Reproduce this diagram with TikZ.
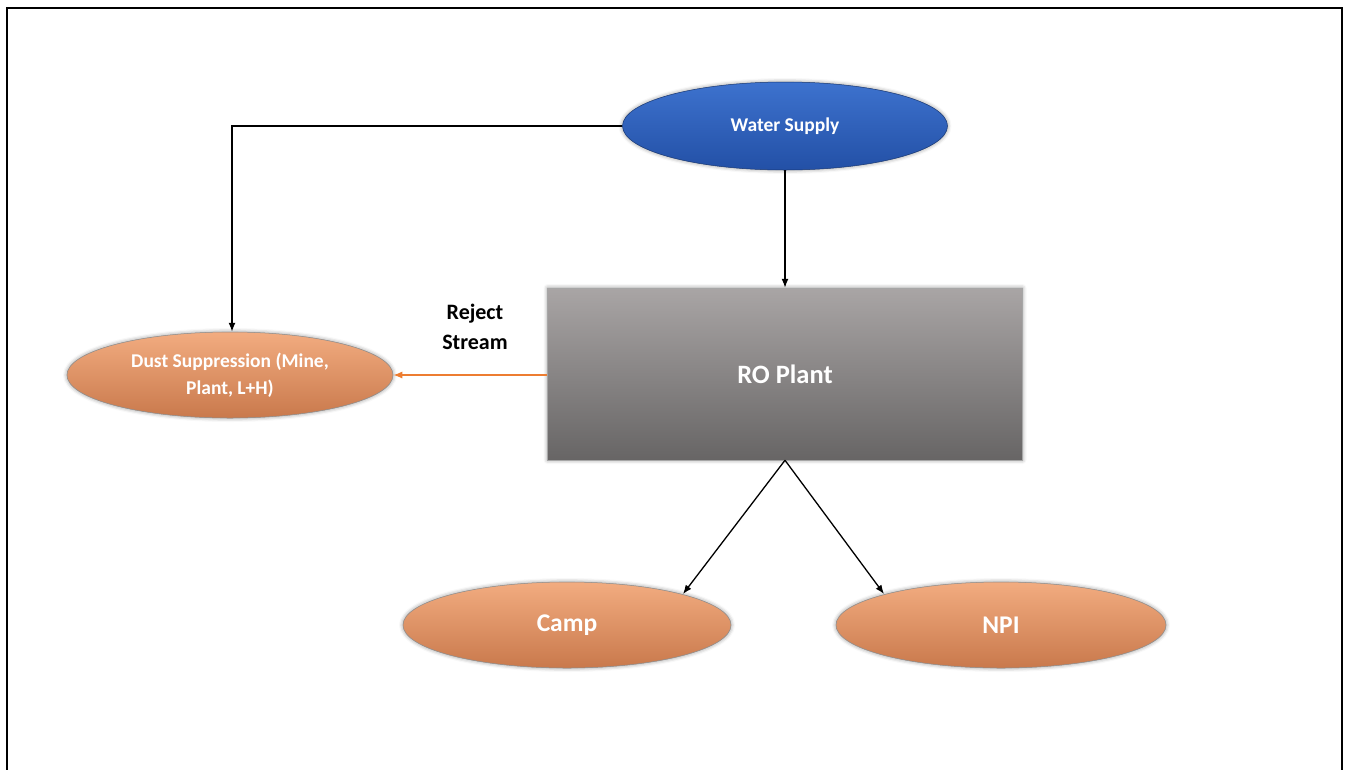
\documentclass[tikz,border=0pt]{standalone}
\usepackage{fontspec}
\setmainfont{Carlito}
\usetikzlibrary{shapes.geometric,arrows.meta,shadows.blur}
\definecolor{blueTop}{HTML}{3D72CE}
\definecolor{blueBot}{HTML}{2350A6}
\definecolor{orangeTop}{HTML}{F2AC80}
\definecolor{orangeBot}{HTML}{C9794C}
\definecolor{grayTop}{HTML}{A9A5A5}
\definecolor{grayBot}{HTML}{676565}
\definecolor{rejectLine}{HTML}{ED7D31}
\tikzset{
  x=1pt, y=-1pt,
  oval/.style={ellipse, minimum width=328pt, minimum height=86pt, inner sep=0pt,
    draw=black!45, line width=0.5pt, text=white, font=\bfseries, align=center,
    blur shadow={shadow xshift=0pt, shadow yshift=0pt, shadow blur radius=4pt, shadow opacity=45}},
  orangeoval/.style={oval, top color=orangeTop, bottom color=orangeBot},
  blueoval/.style={oval, top color=blueTop, bottom color=blueBot, draw=blueBot!70!black},
  plantbox/.style={rectangle, minimum width=475pt, minimum height=172pt, inner sep=0pt,
    top color=grayTop, bottom color=grayBot, draw=black!35, line width=0.5pt,
    text=white, font=\bfseries\fontsize{26.5}{30}\selectfont,
    blur shadow={shadow xshift=0pt, shadow yshift=0pt, shadow blur radius=4pt, shadow opacity=45}},
  flow/.style={draw=black, line width=1.3pt, -{Latex[length=9pt,width=7pt]}},
  rejectflow/.style={draw=rejectLine, line width=1.3pt, -{Latex[length=9pt,width=7pt]}}
}
\begin{document}
\begin{tikzpicture}
\useasboundingbox (0,0) rectangle (1348,769);
% page frame, open at the bottom
\draw[line width=2.2pt] (7,775) -- (7,8) -- (1342,8) -- (1342,775);

\node[blueoval, minimum width=325pt, minimum height=88pt, font=\bfseries\fontsize{19.5}{23}\selectfont] (water) at (785,126) {Water Supply};
\node[plantbox] (ro) at (785,374) {RO Plant};
\node[orangeoval, minimum width=326pt, font=\bfseries\fontsize{19.5}{27}\selectfont] (dust) at (230,375) {Dust Suppression (Mine,\\Plant, L+H)};
\node[orangeoval, font=\bfseries\fontsize{25.5}{30}\selectfont] (camp) at (567,625) {Camp};
\node[orangeoval, minimum width=330pt, font=\bfseries\fontsize{25.5}{30}\selectfont] (npi) at (1001,625) {NPI};

\node[font=\bfseries\fontsize{22}{30}\selectfont, align=center] (reject) at (475,327) {Reject\\Stream};

\coordinate (corner) at (232,126);
\draw[flow] (water.west) -- (corner) -- (dust.north -| corner);
\draw[flow] (water.south) -- (ro.north);
\draw[rejectflow] (ro.west |- dust.east) -- (dust.east);
\draw[flow] (ro.south) -- (683,594);
\draw[flow] (ro.south) -- (884,594);
\end{tikzpicture}
\end{document}
